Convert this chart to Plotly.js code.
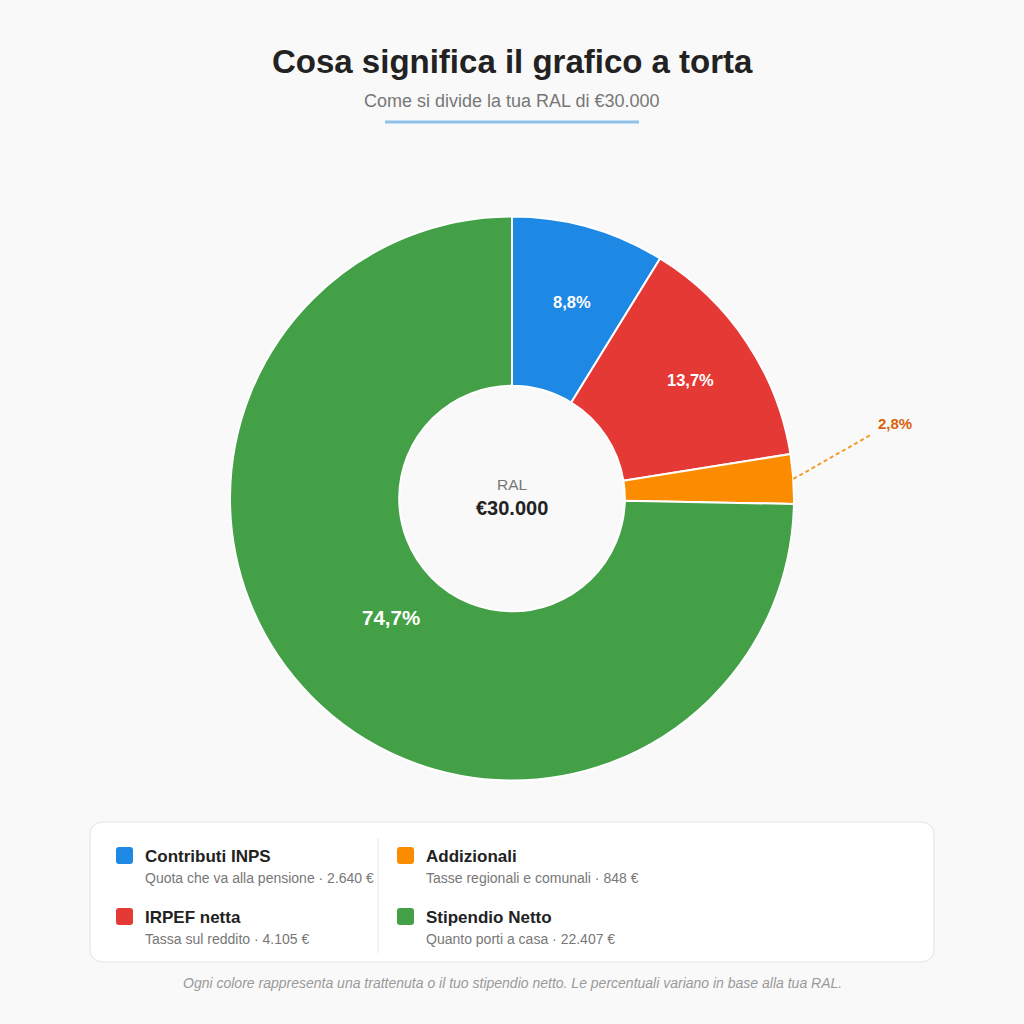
<!DOCTYPE html>
<html>
<head>
<meta charset="utf-8">
<script src="https://cdn.plot.ly/plotly-3.0.1.min.js"></script>
<style>
  html, body { margin: 0; padding: 0; background: #f9f9f9; }
  #chart { width: 1024px; height: 1024px; }
</style>
</head>
<body>
<div id="chart"></div>
<script>
// data
var labels = ['Contributi INPS', 'IRPEF netta', 'Addizionali', 'Stipendio Netto'];
var descriptions = ['Quota che va alla pensione', 'Tassa sul reddito', 'Tasse regionali e comunali', 'Quanto porti a casa'];
var amounts = [2640, 4105, 848, 22407];
var colors = ['#1E88E5', '#E53935', '#FB8C00', '#43A047'];
var ral = 30000;

var FONT = 'Liberation Sans, Arial, Helvetica, sans-serif';
var W = 1024, H = 1024;

// pixel -> paper
function px(x) { return x / W; }
function py(y) { return 1 - y / H; }

function euro(n) {
    return String(n).replace(/\B(?=(\d{3})+(?!\d))/g, '.');
}

function pct(v) {
    return (v / ral * 100).toFixed(1).replace('.', ',') + '%';
}

// rounded rect as svg path (paper coords)
function roundRect(x0, y0, x1, y1, r) {
    return 'M' + px(x0 + r) + ',' + py(y0) +
        ' L' + px(x1 - r) + ',' + py(y0) +
        ' Q' + px(x1) + ',' + py(y0) + ' ' + px(x1) + ',' + py(y0 + r) +
        ' L' + px(x1) + ',' + py(y1 - r) +
        ' Q' + px(x1) + ',' + py(y1) + ' ' + px(x1 - r) + ',' + py(y1) +
        ' L' + px(x0 + r) + ',' + py(y1) +
        ' Q' + px(x0) + ',' + py(y1) + ' ' + px(x0) + ',' + py(y1 - r) +
        ' L' + px(x0) + ',' + py(y0 + r) +
        ' Q' + px(x0) + ',' + py(y0) + ' ' + px(x0 + r) + ',' + py(y0) + ' Z';
}

var shapes = [];
var annotations = [];

function note(x, y, text, size, color, anchor) {
    annotations.push({ x: px(x), y: py(y), xref: 'paper', yref: 'paper', showarrow: false,
        xanchor: anchor || 'center', yanchor: 'middle', text: text,
        font: { family: FONT, size: size, color: color } });
}

// pie geometry (px)
var cx = 512, cy = 498.5, R = 282;

var pie = {
    type: 'pie',
    values: amounts,
    labels: labels,
    marker: { colors: colors, line: { color: '#ffffff', width: 2 } },
    hole: 0.4,
    sort: false,
    direction: 'clockwise',
    rotation: 0,
    textinfo: 'none',
    hoverinfo: 'none',
    showlegend: false,
    domain: { x: [px(cx - R), px(cx + R)], y: [py(cy + R), py(cy - R)] }
};

// slice labels, placed on each slice's mid angle
var labelRadius = [204, 214, 0, 170];
var labelSize = [16.5, 16.5, 0, 20.5];
var cum = 0;
amounts.forEach(function (v, i) {
    var th = (cum + v / 2) / ral * 2 * Math.PI;
    cum += v;
    if (!labelRadius[i]) return;
    note(cx + labelRadius[i] * Math.sin(th) + (i === 0 ? 4 : 0), cy - labelRadius[i] * Math.cos(th),
        '<b>' + pct(v) + '</b>', labelSize[i], '#ffffff');
});

// title block
note(512, 61, '<b>Cosa significa il grafico a torta</b>', 33, '#222222');
note(512, 101, 'Come si divide la tua RAL di €' + euro(ral), 18, '#777777');
shapes.push({ type: 'line', xref: 'paper', yref: 'paper',
    x0: px(385), x1: px(639), y0: py(122), y1: py(122),
    line: { color: '#8fc1ea', width: 3 } });

// centre of donut
note(cx, 484, 'RAL', 15.5, '#777777');
note(cx, 508, '<b>€' + euro(ral) + '</b>', 20, '#222222');

// leader for the small slice
var before = amounts[0] + amounts[1];
var midFrac = (before + amounts[2] / 2) / ral;
var th = midFrac * 2 * Math.PI;
var sx = cx + R * Math.sin(th), sy = cy - R * Math.cos(th);
var ex = sx + 79, ey = sy - 45;
shapes.push({ type: 'line', xref: 'paper', yref: 'paper',
    x0: px(sx), y0: py(sy), x1: px(ex), y1: py(ey),
    line: { color: '#F39C2B', width: 2, dash: '4px,3px' } });
note(ex + 4, ey - 10, '<b>' + pct(amounts[2]) + '</b>', 15, '#D9620F', 'left');

// legend card
shapes.push({ type: 'path', xref: 'paper', yref: 'paper', layer: 'below',
    path: roundRect(90, 822, 934, 962, 14),
    fillcolor: '#ffffff', line: { color: '#e3e3e3', width: 1 } });
shapes.push({ type: 'line', xref: 'paper', yref: 'paper',
    x0: px(378), x1: px(378), y0: py(838), y1: py(953),
    line: { color: '#e6e6e6', width: 1 } });

var colX = [116, 397];
var rowY = [855, 916];
var order = [[0, 0], [1, 0], [0, 1], [1, 1]]; // [row, col] per item
labels.forEach(function (lab, i) {
    var row = order[i][0], col = order[i][1];
    var x = colX[col], y = rowY[row];
    shapes.push({ type: 'path', xref: 'paper', yref: 'paper',
        path: roundRect(x, y - 8, x + 17, y + 9, 3),
        fillcolor: colors[i], line: { width: 0 } });
    note(x + 27, y + 1, '<b>' + lab + '</b>', 17, '#222222', 'left');
    note(x + 27, y + 23, descriptions[i] + ' · ' + euro(amounts[i]) + ' €', 14, '#777777', 'left');
});

// footnote
note(512, 983, '<i>Ogni colore rappresenta una trattenuta o il tuo stipendio netto. Le percentuali variano in base alla tua RAL.</i>',
    14, '#9a9a9a');

var layout = {
    width: W, height: H,
    margin: { t: 0, b: 0, l: 0, r: 0 },
    paper_bgcolor: '#f9f9f9',
    plot_bgcolor: '#f9f9f9',
    showlegend: false,
    shapes: shapes,
    annotations: annotations
};

Plotly.newPlot('chart', [pie], layout, { staticPlot: true, displayModeBar: false });
</script>
</body>
</html>
